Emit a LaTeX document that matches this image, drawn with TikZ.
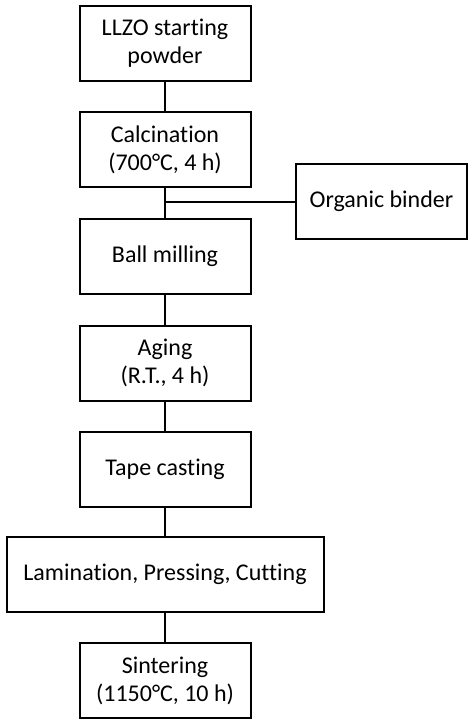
\documentclass[tikz,border=0pt]{standalone}
\usepackage{fontspec}
\setmainfont[Ligatures=CommonOff]{Carlito}
\begin{document}
\begin{tikzpicture}[x=0.75pt,y=-0.75pt,
  box/.style={draw,line width=1.5pt,minimum width=171*0.75pt,minimum height=75*0.75pt,inner sep=0pt,align=center,font=\fontsize{18}{21}\selectfont},
  link/.style={line width=1.5pt}]
\useasboundingbox (0,0) rectangle (473,724);
\node[box] (b1) at (165,43.5) {LLZO starting\\powder};
\node[box] (b2) at (165,149.5) {Calcination\\(700°C, 4 h)};
\node[box] (ob) at (381.5,201.5) {Organic binder};
\node[box] (b3) at (165,256.5) {Ball milling};
\node[box] (b4) at (165,363) {Aging\\(R.T., 4 h)};
\node[box] (b5) at (165,469) {Tape casting};
\node[box,minimum width=317*0.75pt] (b6) at (165,574.5) {Lamination, Pressing, Cutting};
\node[box] (b7) at (165,680.5) {Sintering\\(1150°C, 10 h)};
\coordinate (j) at (b2.south |- ob.west);
\draw[link] (b1) -- (b2);
\draw[link] (b2) -- (b3);
\draw[link] (j) -- (ob.west);
\draw[link] (b3) -- (b4);
\draw[link] (b4) -- (b5);
\draw[link] (b5) -- (b6);
\draw[link] (b6) -- (b7);
\end{tikzpicture}
\end{document}
